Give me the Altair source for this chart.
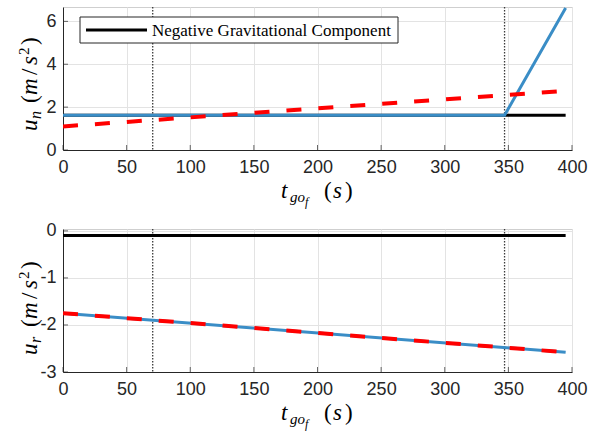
import altair as alt
import pandas as pd

# ---- data ----
t_blue_top = [0, 347, 395]
un_blue = [1.62, 1.62, 6.62]
t_line = [0, 395]
un_red = [1.10, 2.76]
un_black = [1.62, 1.62]
ur_blue = [-1.75, -2.58]
ur_red = [-1.75, -2.58]
ur_black = [-0.10, -0.10]
v_lines = [70.5, 347]
x_ticks = [0, 50, 100, 150, 200, 250, 300, 350, 400]
y_ticks_top = [0, 2, 4, 6]
y_ticks_bot = [-3, -2, -1, 0]
legend_label = "Negative Gravitational Component"

BLUE = "#3a8dc6"
RED = "#ff0000"
BLACK = "#000000"
AX = "#262626"
W = 509
H_TOP = 143
H_BOT = 143
SERIF = "Liberation Serif"

ONE = pd.DataFrame({"a": [0]})


def txt(s, x, y, size, italic=False, angle=0, font=SERIF, baseline="alphabetic"):
    kw = dict(font=font, fontSize=size, align="left", baseline=baseline, color=BLACK)
    if italic:
        kw["fontStyle"] = "italic"
    if angle:
        kw["angle"] = angle
    return alt.Chart(ONE).mark_text(**kw).encode(
        x=alt.value(x), y=alt.value(y), text=alt.value(s))


def xenc():
    return alt.X("t:Q", scale=alt.Scale(domain=[0, 400], nice=False),
                 axis=alt.Axis(values=x_ticks, title=None, ticks=False, tickSize=0,
                               labelPadding=8, labelFlush=False))


def yenc(domain, ticks):
    return alt.Y("u:Q", scale=alt.Scale(domain=domain, nice=False, zero=False),
                 axis=alt.Axis(values=ticks, title=None, ticks=False, tickSize=0,
                               labelPadding=7, labelFlush=False,
                               labelExpr="'' + datum.value"))


def panel(lines, ydomain, yticks, sub, height, dy, extra=()):
    layers = []
    vdf = pd.DataFrame({"t": v_lines})
    layers.append(alt.Chart(vdf).mark_rule(color="#3a3a3a", strokeDash=[1.5, 1.5], strokeWidth=1.3)
                  .encode(x=xenc()))
    first = True
    for (tv, yv, color, dash, sw) in lines:
        df = pd.DataFrame({"t": tv, "u": yv})
        kw = dict(color=color, strokeWidth=sw, clip=True)
        if dash:
            kw["strokeDash"] = dash
        enc = dict(x=xenc(), y=yenc(ydomain, yticks) if first else alt.Y("u:Q"))
        layers.append(alt.Chart(df).mark_line(**kw).encode(**enc))
        first = False
    # inward ticks
    layers.append(alt.Chart(pd.DataFrame({"t": x_ticks})).mark_tick(
        color=AX, size=5, thickness=1, orient="vertical").encode(x="t:Q", y=alt.value(height - 2.5)))
    layers.append(alt.Chart(pd.DataFrame({"u": yticks})).mark_tick(
        color=AX, size=5, thickness=1, orient="horizontal").encode(y="u:Q", x=alt.value(2.5)))
    # x axis title: t_{go_f} (s)
    by = height + 48
    layers += [
        txt("t", 218, by, 23, italic=True),
        txt("go", 227, by + 4, 15, italic=True),
        txt("f", 242, by + 8, 12, italic=True),
        txt("(", 261, by, 23),
        txt("s", 270, by, 23, italic=True),
        txt(")", 282, by, 23),
    ]
    # y axis title: u_sub (m/s^2), rotated
    bx = -26
    layers += [
        txt("u", bx, 124 + dy, 23, italic=True, angle=270),
        txt(sub, bx + 4, 112 + dy, 16, italic=True, angle=270),
        txt("(", bx, 96 + dy, 23, angle=270),
        txt("m", bx, 88 + dy, 23, italic=True, angle=270),
        txt("/", bx, 68 + dy, 23, angle=270),
        txt("s", bx, 58 + dy, 23, italic=True, angle=270),
        txt("2", bx - 8, 48 + dy, 15, angle=270),
        txt(")", bx, 38 + dy, 23, angle=270),
    ]
    layers.extend(extra)
    return alt.layer(*layers).properties(width=W, height=height)


legend_layers = [
    alt.Chart(ONE).mark_rect(fill="white", stroke=AX, strokeWidth=1)
    .encode(x=alt.value(17), x2=alt.value(335), y=alt.value(10), y2=alt.value(36)),
    alt.Chart(ONE).mark_rule(color=BLACK, strokeWidth=3)
    .encode(x=alt.value(23), x2=alt.value(84), y=alt.value(23)),
    txt(legend_label, 89, 23.5, 17, baseline="middle"),
]

top = panel(
    [
        (t_line, un_black, BLACK, None, 3),
        (t_blue_top, un_blue, BLUE, None, 3),
        (t_line, un_red, RED, [15, 17], 4),
    ],
    [0, 6.67], y_ticks_top, "n", H_TOP, 0, extra=legend_layers,
)

bottom = panel(
    [
        (t_line, ur_black, BLACK, None, 3),
        (t_line, ur_blue, BLUE, None, 3),
        (t_line, ur_red, RED, [15, 17], 4),
    ],
    [-3, 0.04], y_ticks_bot, "r", H_BOT, 2,
)

chart = alt.vconcat(top, bottom, spacing=79, bounds="flush").properties(
    padding={"left": 16, "top": 5, "right": 0, "bottom": 0},
).configure_view(stroke="#cfcfcf", strokeWidth=1).configure_axis(
    labelFont="Liberation Sans", labelFontSize=18, labelColor=AX,
    domainColor=AX, domainWidth=1, grid=True, gridColor="#e3e3e3", gridWidth=1,
)

chart.save("out.html", embed_options={"renderer": "svg", "actions": False})
